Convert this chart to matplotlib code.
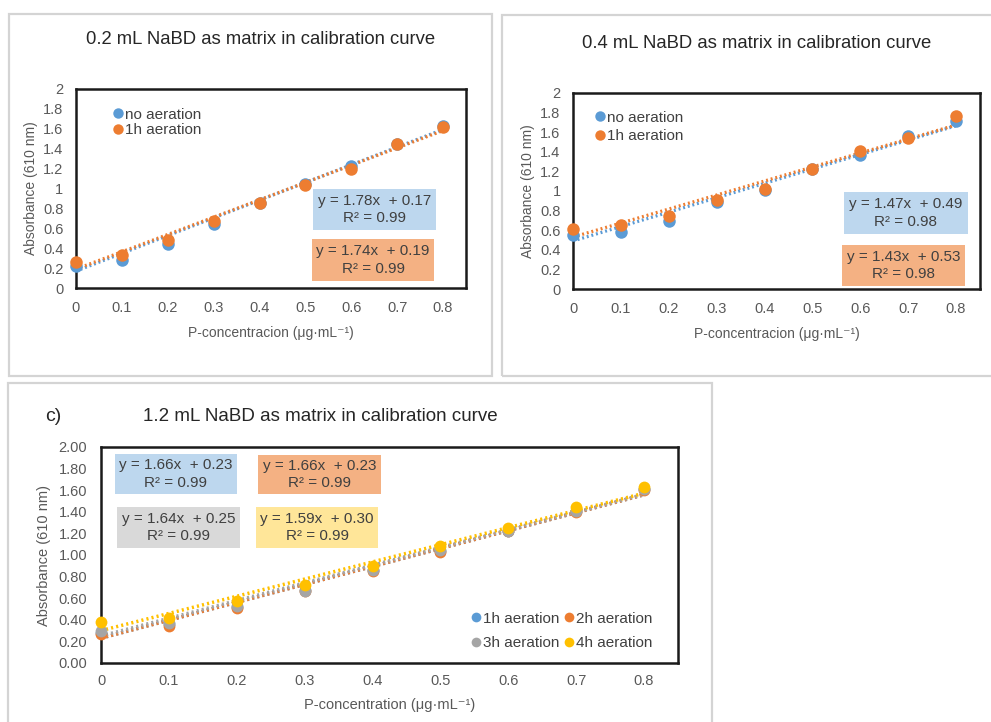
import matplotlib
matplotlib.use("Agg")
import matplotlib.pyplot as plt
from matplotlib.patches import Rectangle
from matplotlib.ticker import FuncFormatter, MultipleLocator

plt.rcParams['font.family'] = ['Liberation Sans', 'DejaVu Sans']

W, H = 991, 722

# ---- data -------------------------------------------------------------
conc = [0.0, 0.1, 0.2, 0.3, 0.4, 0.5, 0.6, 0.7, 0.8]

# 0.2 mL NaBD
a_no_aer = [0.22, 0.28, 0.44, 0.64, 0.85, 1.05, 1.23, 1.45, 1.63]
a_1h_aer = [0.26, 0.33, 0.48, 0.67, 0.85, 1.04, 1.20, 1.45, 1.62]
a_fit = {"no aeration": (1.78, 0.17, 0.99), "1h aeration": (1.74, 0.19, 0.99)}

# 0.4 mL NaBD
b_no_aer = [0.55, 0.58, 0.69, 0.89, 1.01, 1.22, 1.37, 1.56, 1.71]
b_1h_aer = [0.61, 0.65, 0.74, 0.91, 1.02, 1.22, 1.41, 1.54, 1.77]
b_fit = {"no aeration": (1.47, 0.49, 0.98), "1h aeration": (1.43, 0.53, 0.98)}

# 1.2 mL NaBD
c_1h = [0.28, 0.36, 0.52, 0.68, 0.86, 1.04, 1.22, 1.41, 1.61]
c_2h = [0.27, 0.34, 0.51, 0.67, 0.85, 1.03, 1.22, 1.40, 1.60]
c_3h = [0.30, 0.37, 0.53, 0.67, 0.86, 1.05, 1.22, 1.41, 1.61]
c_4h = [0.38, 0.42, 0.57, 0.72, 0.90, 1.08, 1.25, 1.44, 1.63]
c_fit = {"1h aeration": (1.66, 0.23, 0.99), "2h aeration": (1.66, 0.23, 0.99),
         "3h aeration": (1.64, 0.25, 0.99), "4h aeration": (1.59, 0.30, 0.99)}

BLUE, ORANGE, GRAY, YELLOW = "#5B9BD5", "#ED7D31", "#A5A5A5", "#FFC000"
BOX = {BLUE: "#BDD7EE", ORANGE: "#F4B183", GRAY: "#D9D9D9", YELLOW: "#FFE699"}

fig = plt.figure(figsize=(W / 100, H / 100), dpi=100)


def fx(x):
    return x / W


def fy(y):
    return 1 - y / H


def add_axes_px(x0, y0, x1, y1):
    return fig.add_axes([fx(x0), fy(y1), (x1 - x0) / W, (y1 - y0) / H])


def panel_frame(x0, y0, x1, y1):
    fig.patches.append(Rectangle((fx(x0), fy(y1)), (x1 - x0) / W, (y1 - y0) / H,
                                 transform=fig.transFigure, fill=False,
                                 edgecolor="#D4D4D4", lw=1.6, zorder=0))


def eq_box(x0, y0, x1, y1, color, m, b, r2, size):
    fig.patches.append(Rectangle((fx(x0), fy(y1)), (x1 - x0) / W, (y1 - y0) / H,
                                 transform=fig.transFigure, facecolor=color,
                                 edgecolor="none", zorder=5))
    fig.text(fx((x0 + x1) / 2), fy((y0 + y1) / 2),
             f"y = {m:.2f}x  + {b:.2f}\nR² = {r2:.2f}",
             ha="center", va="center", fontsize=size, color="#404040",
             linespacing=1.3, zorder=6)


def style_axes(ax, yfmt, size, ypad, xpad):
    ax.set_xlim(0, 0.85)
    ax.set_ylim(0, 2)
    ax.xaxis.set_major_locator(MultipleLocator(0.1))
    ax.yaxis.set_major_locator(MultipleLocator(0.2))
    ax.xaxis.set_major_formatter(FuncFormatter(lambda v, p: f"{v:g}" if v <= 0.8001 else ""))
    ax.yaxis.set_major_formatter(FuncFormatter(yfmt))
    ax.tick_params(axis="y", length=0, pad=ypad, labelsize=size, labelcolor="#595959")
    ax.tick_params(axis="x", length=0, pad=xpad, labelsize=size, labelcolor="#595959")
    for s in ax.spines.values():
        s.set_color("#1a1a1a")
        s.set_linewidth(1.8)


def draw_series(ax, y, fit, color, ms, lw):
    m, b, _ = fit
    ax.plot([conc[0], conc[-1]], [m * conc[0] + b, m * conc[-1] + b],
            linestyle=(0, (0.6, 0.9)), color=color, lw=lw, zorder=2)
    ax.plot(conc, y, "o", color=color, ms=ms, mec="none", clip_on=False, zorder=3)


# ---- panel a ----------------------------------------------------------
panel_frame(9, 14, 492, 376)
ax1 = add_axes_px(76, 89, 466, 288)
style_axes(ax1, lambda v, p: f"{v:g}", 10.5, 9, 9)
draw_series(ax1, a_no_aer, a_fit["no aeration"], BLUE, 9, 2.3)
draw_series(ax1, a_1h_aer, a_fit["1h aeration"], ORANGE, 9, 2.3)
fig.text(fx(261), fy(39), "0.2 mL NaBD as matrix in calibration curve",
         ha="center", va="center", fontsize=13.3, color="#262626")
ax1.set_xlabel("P-concentracion (μg·mL⁻¹)", fontsize=10, color="#595959", labelpad=8)
ax1.set_ylabel("Absorbance (610 nm)", fontsize=10, color="#595959", labelpad=4)
h1 = [plt.Line2D([], [], marker="o", ls="none", color=c, ms=7.5, mec="none") for c in (BLUE, ORANGE)]
ax1.legend(h1, ["no aeration", "1h aeration"], loc="upper left",
           bbox_to_anchor=(fx(106), fy(100)), bbox_transform=fig.transFigure,
           frameon=False, borderpad=0, handlelength=0.6, handletextpad=0.15,
           labelspacing=0.12, fontsize=11, labelcolor="#404040")
eq_box(313, 189, 436, 230, BOX[BLUE], *a_fit["no aeration"], 11)
eq_box(312, 239, 434, 281, BOX[ORANGE], *a_fit["1h aeration"], 11)

# ---- panel b ----------------------------------------------------------
panel_frame(502, 15, 1000, 376)
ax2 = add_axes_px(573, 93, 980, 289)
style_axes(ax2, lambda v, p: f"{v:g}", 10.5, 9, 9)
draw_series(ax2, b_no_aer, b_fit["no aeration"], BLUE, 9, 2.3)
draw_series(ax2, b_1h_aer, b_fit["1h aeration"], ORANGE, 9, 2.3)
fig.text(fx(757), fy(43), "0.4 mL NaBD as matrix in calibration curve",
         ha="center", va="center", fontsize=13.3, color="#262626")
ax2.set_xlabel("P-concentracion (μg·mL⁻¹)", fontsize=10, color="#595959", labelpad=8)
ax2.set_ylabel("Absorbance (610 nm)", fontsize=10, color="#595959", labelpad=4)
ax2.legend(h1, ["no aeration", "1h aeration"], loc="upper left",
           bbox_to_anchor=(fx(588), fy(103)), bbox_transform=fig.transFigure,
           frameon=False, borderpad=0, handlelength=0.6, handletextpad=0.15,
           labelspacing=0.3, fontsize=11, labelcolor="#404040")
eq_box(844, 192, 968, 234, BOX[BLUE], *b_fit["no aeration"], 11)
eq_box(842, 245, 965, 286, BOX[ORANGE], *b_fit["1h aeration"], 11)

# ---- panel c ----------------------------------------------------------
panel_frame(8, 383, 712, 730)
ax3 = add_axes_px(101, 447, 678, 663)
style_axes(ax3, lambda v, p: f"{v:.2f}", 10.5, 10, 8)
series_c = [("1h aeration", c_1h, BLUE), ("2h aeration", c_2h, ORANGE),
            ("3h aeration", c_3h, GRAY), ("4h aeration", c_4h, YELLOW)]
for name, y, col in series_c:
    draw_series(ax3, y, c_fit[name], col, 8.5, 2.5)
fig.text(fx(53), fy(416), "c)", ha="center", va="center", fontsize=14,
         color="#262626")
fig.text(fx(143), fy(416), "1.2 mL NaBD as matrix in calibration curve",
         ha="left", va="center", fontsize=13.5, color="#262626")
ax3.set_xlabel("P-concentration (μg·mL⁻¹)", fontsize=10.5, color="#595959",
               labelpad=7)
ax3.set_ylabel("Absorbance (610 nm)", fontsize=10.5, color="#595959",
               labelpad=5)
hc = {n: plt.Line2D([], [], marker="o", ls="none", color=c, ms=7, mec="none")
      for n, _, c in series_c}
order = ["1h aeration", "3h aeration", "2h aeration", "4h aeration"]
ax3.legend([hc[n] for n in order], order, ncol=2, loc="upper left",
           bbox_to_anchor=(fx(464), fy(604)), bbox_transform=fig.transFigure,
           frameon=False, borderpad=0, handlelength=0.6, handletextpad=0.15,
           columnspacing=0.3, labelspacing=0.7, fontsize=11, labelcolor="#404040")
eq_box(115, 454, 237, 494, BOX[BLUE], *c_fit["1h aeration"], 11)
eq_box(258, 455, 381, 494, BOX[ORANGE], *c_fit["2h aeration"], 11)
eq_box(117, 507, 240, 548, BOX[GRAY], *c_fit["3h aeration"], 11)
eq_box(256, 507, 378, 548, BOX[YELLOW], *c_fit["4h aeration"], 11)

fig.savefig("out.png", dpi=100)
